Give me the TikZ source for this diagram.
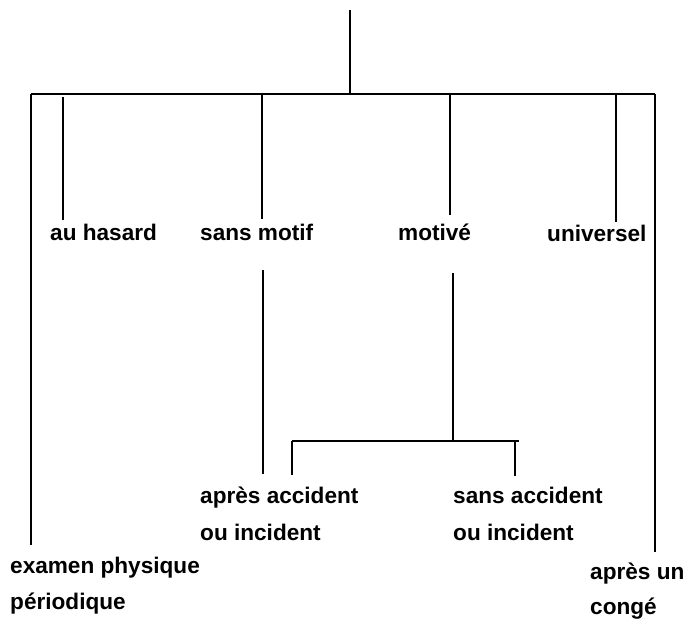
\documentclass[tikz,border=0pt]{standalone}
\usepackage{fontspec}
\setmainfont{Liberation Sans}
\begin{document}
\begin{tikzpicture}[x=1pt,y=-1pt,
  lbl/.style={anchor=base west,inner sep=0pt,font=\fontsize{22.6}{26}\selectfont\bfseries},
  link/.style={line width=1.8pt,black}]
\useasboundingbox (0,0) rectangle (685,619);
% labels
\node[lbl] (ah)  at (50,240)  {au hasard};
\node[lbl] (sm)  at (200,240) {sans motif};
\node[lbl] (mo)  at (398,240) {motivé};
\node[lbl] (un)  at (547,241) {universel};
\node[lbl] (aa1) at (200,503) {après accident};
\node[lbl] (aa2) at (200,540) {ou incident};
\node[lbl] (sa1) at (453,503) {sans accident};
\node[lbl] (sa2) at (453,540) {ou incident};
\node[lbl] (ep1) at (10,573)  {examen physique};
\node[lbl] (ep2) at (10,609)  {périodique};
\node[lbl] (ap1) at (590,579) {après un};
\node[lbl] (ap2) at (590,614) {congé};
% junctions
\coordinate (root) at (350,10);
\coordinate (rj)   at (350,94);
\coordinate (L)    at (31,94);
\coordinate (R)    at (655,94);
\coordinate (Lend) at (31,545);
\coordinate (Rend) at (655,552);
\coordinate (ahT) at (63,97);   \coordinate (ahB) at (63,220);
\coordinate (smT) at (262,94);  \coordinate (smB) at (262,219);
\coordinate (moT) at (450,94);  \coordinate (moB) at (450,215);
\coordinate (unT) at (616,94);  \coordinate (unB) at (616,222);
\coordinate (s2T) at (263,270); \coordinate (s2B) at (263,474);
\coordinate (m2T) at (453,273); \coordinate (m2B) at (453,441);
\coordinate (hL)  at (292,441); \coordinate (hR)  at (519,441);
\coordinate (aaB) at (292,475);
\coordinate (saT) at (515,441); \coordinate (saB) at (515,476);
% connectors
\draw[link] (root) -- (rj);
\draw[link] (L) -- (R);
\draw[link] (L) -- (Lend);
\draw[link] (R) -- (Rend);
\draw[link] (ahT) -- (ahB);
\draw[link] (smT) -- (smB);
\draw[link] (moT) -- (moB);
\draw[link] (unT) -- (unB);
\draw[link] (s2T) -- (s2B);
\draw[link] (m2T) -- (m2B);
\draw[link] (hL) -- (hR);
\draw[link] (hL) -- (aaB);
\draw[link] (saT) -- (saB);
\end{tikzpicture}
\end{document}
